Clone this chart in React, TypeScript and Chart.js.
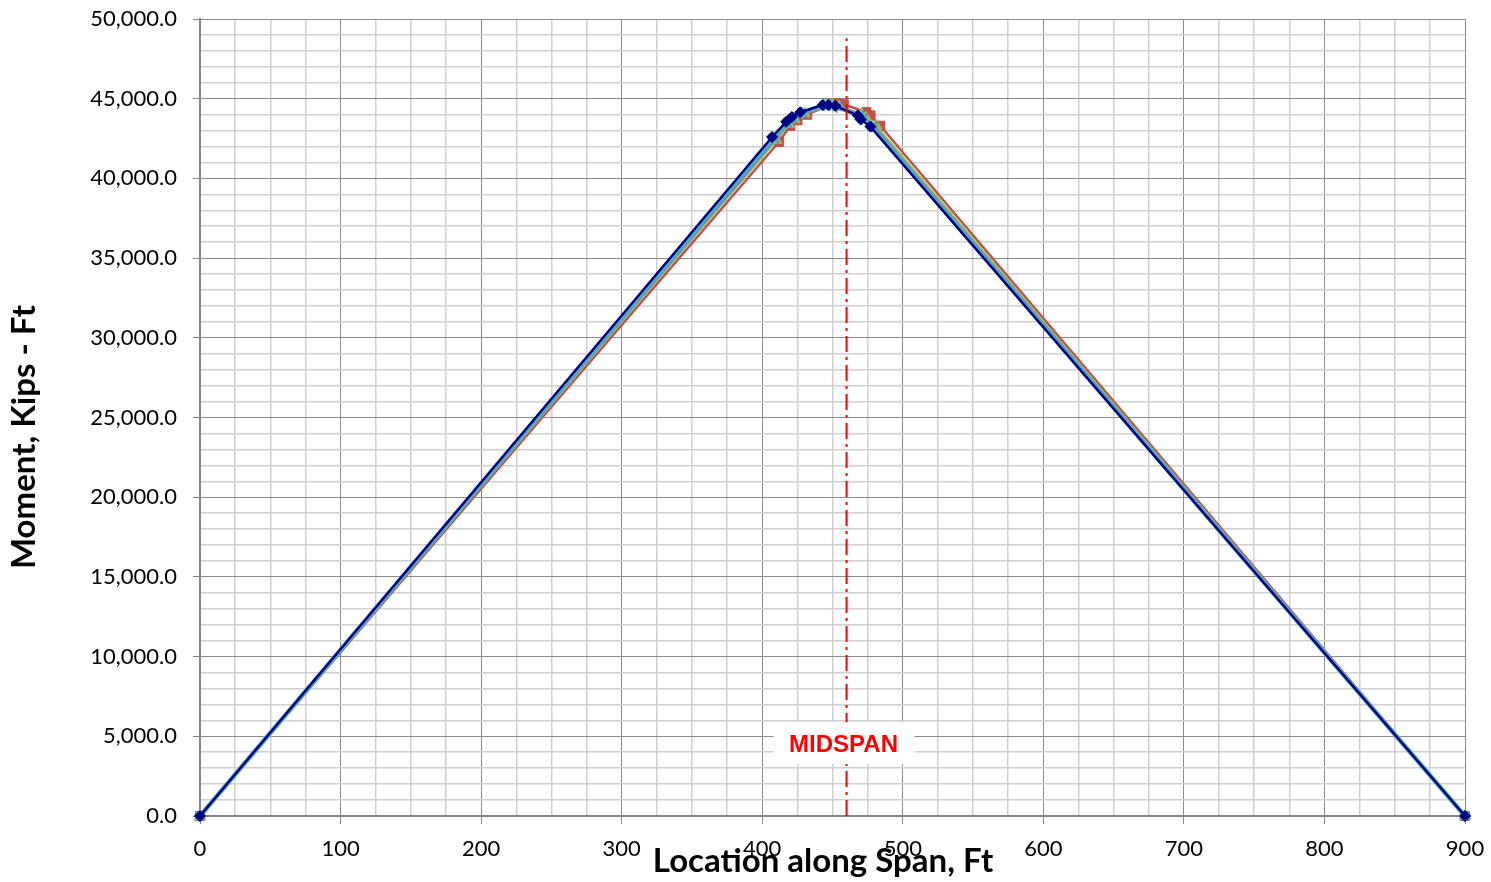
import React, { useEffect, useRef } from "react";
import { Chart, registerables } from "chart.js";

Chart.register(...registerables);

// ---- Data ----
const X_TITLE = "Location along Span, Ft";
const Y_TITLE = "Moment, Kips - Ft";
const MIDSPAN_LABEL = "MIDSPAN";
const MIDSPAN_X = 460;
const MIDSPAN_LINE_Y = [0, 48800];
const MIDSPAN_LABEL_Y = 4450;

const navyX = [0, 407, 417, 421, 427, 443, 447, 452, 468, 470, 477, 900];
const navyY = [0, 42600, 43550, 43850, 44150, 44600, 44600, 44550, 43950, 43700, 43250, 0];

const aquaX = [0, 408, 418, 422, 428, 444, 448, 453, 469, 471, 478, 900];
const aquaY = [0, 42500, 43500, 43800, 44100, 44600, 44600, 44500, 43950, 43750, 43250, 0];

const purpleX = [0, 409, 418, 422, 429, 445, 449, 454, 470, 472, 479, 900];
const purpleY = [0, 42450, 43450, 43750, 44050, 44600, 44650, 44550, 44000, 43800, 43300, 0];

const greenX = [0, 410, 419, 423, 430, 446, 450, 455, 471, 474, 481, 900];
const greenY = [0, 42400, 43400, 43700, 44050, 44550, 44600, 44500, 44000, 43800, 43300, 0];

const redX = [0, 412, 420, 425, 432, 449, 453, 458, 474, 477, 484, 900];
const redY = [0, 42300, 43300, 43650, 44000, 44650, 44700, 44650, 44150, 43950, 43300, 0];

const X_MAJOR = 100;
const Y_MAJOR = 5000;

const pts = (xs: number[], ys: number[]) => xs.map((x, i) => ({ x, y: ys[i] }));

const overlayPlugin = {
  id: "overlay",
  afterDatasetsDraw(chart: any) {
    const { ctx, scales } = chart;
    const px = scales.x.getPixelForValue(MIDSPAN_X) - 3;
    const py = scales.y.getPixelForValue(MIDSPAN_LABEL_Y);
    ctx.save();
    ctx.fillStyle = "#ffffff";
    ctx.fillRect(px - 70, py - 23, 141, 42);
    ctx.fillStyle = "#ff0000";
    ctx.font = "bold 24px 'Liberation Sans', Arial, sans-serif";
    ctx.textAlign = "center";
    ctx.textBaseline = "middle";
    ctx.fillText(MIDSPAN_LABEL, px, py);
    ctx.restore();
  },
  afterDraw(chart: any) {
    const { ctx } = chart;
    ctx.save();
    ctx.fillStyle = "#000000";
    ctx.font = "bold 33px Lato, 'Open Sans', sans-serif";
    ctx.textAlign = "center";
    ctx.textBaseline = "middle";
    ctx.fillText(X_TITLE, 823, 861);
    ctx.translate(24, 437);
    ctx.rotate(-Math.PI / 2);
    ctx.fillText(Y_TITLE, 0, 0);
    ctx.restore();
  },
};

export default function App() {
  const ref = useRef<HTMLCanvasElement | null>(null);
  useEffect(() => {
    if (!ref.current) return;
    const common = { showLine: true, tension: 0, fill: false, clip: false };
    const chart = new Chart(ref.current, {
      type: "scatter",
      data: {
        datasets: [
          {
            ...common,
            label: "Midspan",
            data: [
              { x: MIDSPAN_X, y: MIDSPAN_LINE_Y[0] },
              { x: MIDSPAN_X, y: MIDSPAN_LINE_Y[1] },
            ],
            borderColor: "#ff0000",
            borderWidth: 2,
            borderDash: [16, 5, 3, 5],
            pointRadius: 0,
          },
          {
            ...common,
            label: "Series 1",
            data: pts(navyX, navyY),
            borderColor: "#000080",
            backgroundColor: "#000080",
            borderWidth: 2.5,
            pointStyle: "rectRot",
            pointRadius: 5.5,
            pointBorderWidth: 1,
          },
          {
            ...common,
            label: "Series 5",
            data: pts(aquaX, aquaY),
            borderColor: "#4BACC6",
            backgroundColor: "#4BACC6",
            borderWidth: 4.5,
            pointStyle: "star",
            pointRadius: 6,
            pointBorderWidth: 2,
          },
          {
            ...common,
            label: "Series 4",
            data: pts(purpleX, purpleY),
            borderColor: "#8064A2",
            backgroundColor: "#8064A2",
            borderWidth: 2.5,
            pointStyle: "crossRot",
            pointRadius: 5.5,
            pointBorderWidth: 2,
          },
          {
            ...common,
            label: "Series 3",
            data: pts(greenX, greenY),
            borderColor: "#9BBB59",
            backgroundColor: "#9BBB59",
            borderWidth: 2.5,
            pointStyle: "triangle",
            pointRadius: 6.5,
            pointBorderWidth: 1,
          },
          {
            ...common,
            label: "Series 2",
            data: pts(redX, redY),
            borderColor: "#C0504D",
            backgroundColor: "#C0504D",
            borderWidth: 2.5,
            pointStyle: "rect",
            pointRadius: 6.5,
            pointBorderWidth: 1,
          },
        ],
      },
      options: {
        responsive: false,
        animation: false,
        events: [],
        layout: { padding: { top: 19, right: 26, left: 0, bottom: 0 } },
        plugins: {
          legend: { display: false },
          tooltip: { enabled: false },
        },
        scales: {
          x: {
            type: "linear",
            min: 0,
            max: 900,
            afterFit: (s: any) => {
              s.height = 66;
              s.paddingLeft = 0;
              s.paddingRight = 0;
            },
            border: { display: true, color: "#868686", width: 2 },
            grid: {
              color: (c: any) => (c.tick && c.tick.value % X_MAJOR === 0 ? "#8c8c8c" : "#d0d0d0"),
              lineWidth: (c: any) => (c.tick && c.tick.value % X_MAJOR === 0 ? 1 : 1.5),
              tickColor: (c: any) => (c.tick && c.tick.value % X_MAJOR === 0 ? "#868686" : "rgba(0,0,0,0)"),
              tickLength: 8,
            },
            ticks: {
              stepSize: 25,
              autoSkip: false,
              maxRotation: 0,
              padding: 12,
              color: "#000000",
              font: { family: "Lato, 'Open Sans', sans-serif", size: 22 },
              callback: (v: any) => (Number(v) % X_MAJOR === 0 ? String(v) : ""),
            },
          },
          y: {
            type: "linear",
            min: 0,
            max: 50000,
            afterFit: (s: any) => {
              s.width = 200;
              s.paddingTop = 0;
              s.paddingBottom = 0;
            },
            border: { display: true, color: "#868686", width: 2 },
            grid: {
              color: (c: any) => (c.tick && c.tick.value % Y_MAJOR === 0 ? "#8c8c8c" : "#d0d0d0"),
              lineWidth: (c: any) => (c.tick && c.tick.value % Y_MAJOR === 0 ? 1 : 1.5),
              tickColor: (c: any) => (c.tick && c.tick.value % Y_MAJOR === 0 ? "#868686" : "rgba(0,0,0,0)"),
              tickLength: 7,
            },
            ticks: {
              stepSize: 1000,
              autoSkip: false,
              padding: 16,
              color: "#000000",
              font: { family: "Lato, 'Open Sans', sans-serif", size: 22 },
              callback: (v: any) =>
                Number(v) % Y_MAJOR === 0
                  ? Number(v).toLocaleString("en-US", { minimumFractionDigits: 1, maximumFractionDigits: 1 })
                  : "",
            },
          },
        },
      },
      plugins: [overlayPlugin],
    } as any);
    return () => chart.destroy();
  }, []);

  return (
    <div style={{ position: "absolute", left: 0, top: 0, width: 1491, height: 882, background: "#ffffff" }}>
      <canvas ref={ref} width={1491} height={882} />
    </div>
  );
}
